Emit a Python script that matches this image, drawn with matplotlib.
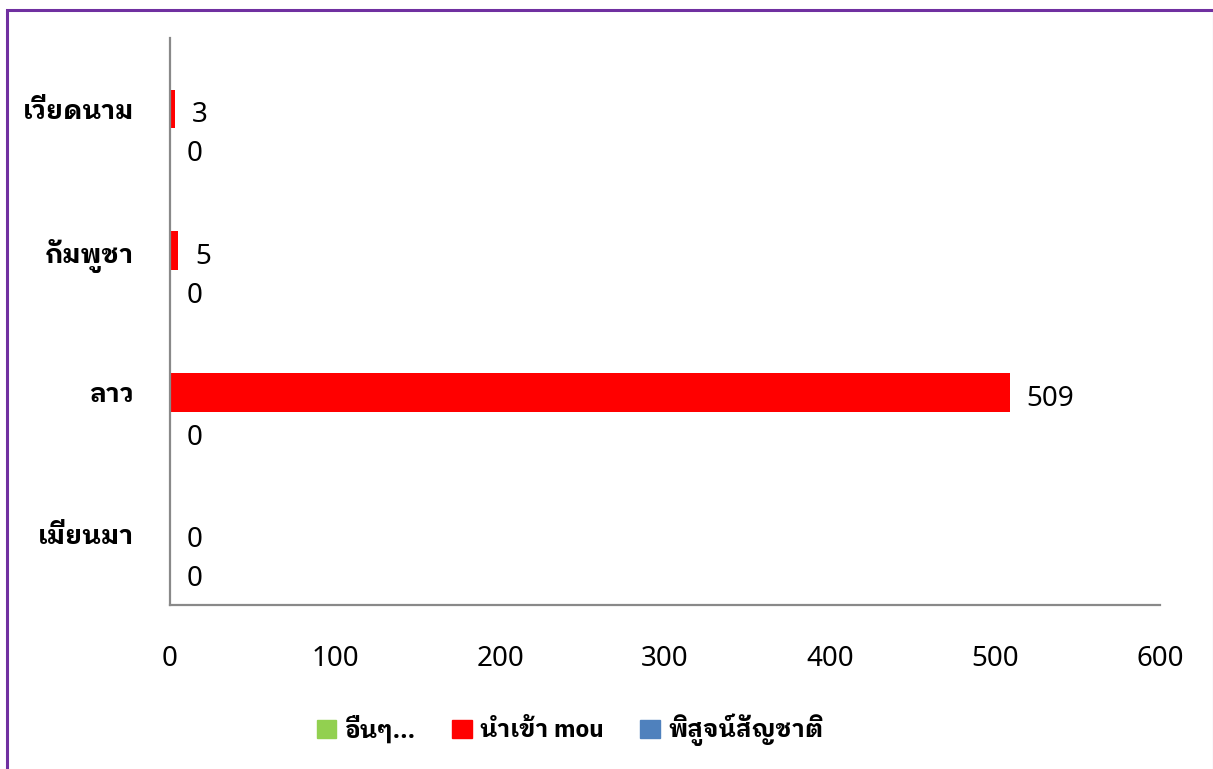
import matplotlib
matplotlib.use("Agg")
import matplotlib.pyplot as plt
from matplotlib.patches import Rectangle, Patch
import numpy as np

# ข้อมูล (อ่านจากภาพ)
countries = ["เมียนมา", "ลาว", "กัมพูชา", "เวียดนาม"]
other = [0, 0, 0, 0]          # อื่นๆ...
mou = [0, 509, 5, 3]          # นำเข้า mou
nationality = [0, 0, 0, 0]    # พิสูจน์สัญชาติ (ไม่มีป้ายกำกับ)
series_names = ["อื่นๆ...", "นำเข้า mou", "พิสูจน์สัญชาติ"]
xticks = [0, 100, 200, 300, 400, 500, 600]

THAI = ["IBM Plex Sans Thai Looped", "Noto Sans Thai Looped", "DejaVu Sans"]
NUM = ["Noto Sans", "DejaVu Sans"]

W, H = 1213, 769
fig = plt.figure(figsize=(W / 100, H / 100), dpi=100)
ax = fig.add_axes([170 / W, (H - 605) / H, 990 / W, 567 / H])

y = np.arange(len(countries))
h = 0.27
off = 0.275
b_other = ax.barh(y - off, other, height=h, color="#92D050")
b_mou = ax.barh(y, mou, height=h, color="#FF0000")
b_nat = ax.barh(y + off, nationality, height=h, color="#4F81BD")

for bars in (b_other, b_mou):
    labels = ax.bar_label(bars, padding=12, fontsize=20)
    for t in labels:
        t.set_family(NUM)
        t.set_va("center")
        t.xyann = (t.xyann[0], -4.5)  # ป้ายใน Excel อยู่ต่ำกว่ากึ่งกลางแท่งเล็กน้อย

ax.set_xlim(0, 600)
ax.set_ylim(-0.5, 3.5)
ax.set_xticks(xticks)
ax.set_xticklabels([str(v) for v in xticks], family=NUM, fontsize=20)
ax.set_yticks(y)
ax.set_yticklabels(countries, family=THAI, fontsize=19, fontweight="bold")
ax.tick_params(axis="x", length=0, pad=29)
ax.tick_params(axis="y", length=0, pad=26)
for s in ("top", "right"):
    ax.spines[s].set_visible(False)
for s in ("left", "bottom"):
    ax.spines[s].set_color("#898989")
    ax.spines[s].set_linewidth(1.6)

handles = [Patch(color=c) for c in ("#92D050", "#FF0000", "#4F81BD")]
fig.legend(handles, series_names, loc="center", bbox_to_anchor=(570 / W, 1 - 730 / H),
           ncol=3, frameon=False, prop={"family": THAI, "size": 17.5, "weight": "bold"},
           handlelength=0.8, handleheight=0.8, handletextpad=0.35, columnspacing=1.5)

# กรอบสีม่วงรอบภาพ
fig.patches.append(Rectangle((6.5 / W, -0.05), (W - 6) / W, 1 - 9.5 / H + 0.05,
                             transform=fig.transFigure, fill=False,
                             edgecolor="#7030A0", linewidth=2.2, clip_on=False))

fig.savefig("out.png", dpi=100)
